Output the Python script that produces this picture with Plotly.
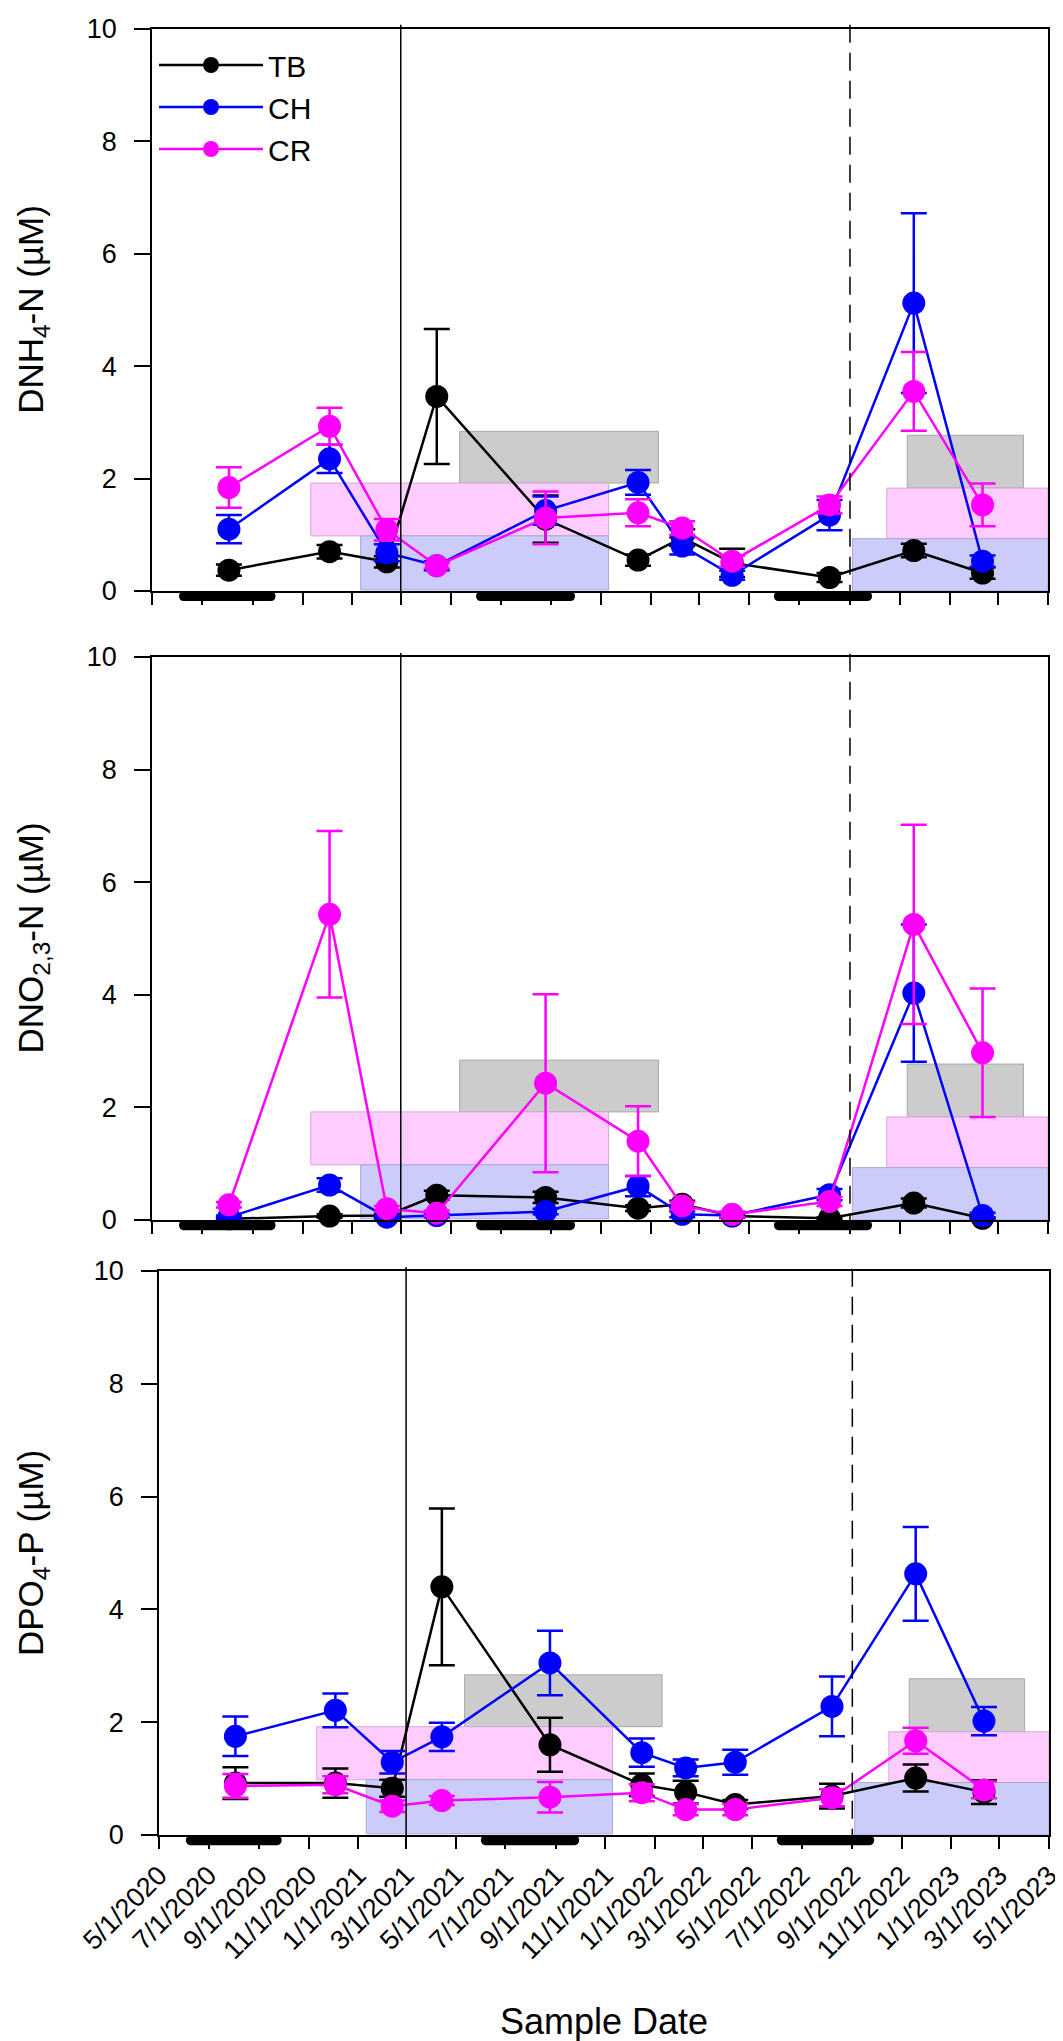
from datetime import date, timedelta

import plotly.graph_objects as go

# Fechas de muestreo
sample_dates = ["2020-08-03", "2020-12-04", "2021-02-12", "2021-04-14", "2021-08-25",
                "2021-12-16", "2022-02-08", "2022-04-10", "2022-08-07", "2022-11-18",
                "2023-02-10"]

# DNH4-N
tb_nh4 = [0.37, 0.70, 0.52, 3.46, 1.28, 0.55, 0.95, 0.50, 0.24, 0.72, 0.32]
tb_nh4_sd = [0.10, 0.12, 0.10, 1.20, 0.42, 0.10, 0.15, 0.25, 0.08, 0.12, 0.10]
ch_nh4 = [1.10, 2.35, 0.68, 0.45, 1.43, 1.93, 0.80, 0.28, 1.35, 5.12, 0.53]
ch_nh4_sd = [0.25, 0.25, 0.15, 0.08, 0.25, 0.22, 0.15, 0.08, 0.27, 1.60, 0.10]
cr_nh4 = [1.84, 2.93, 1.09, 0.45, 1.30, 1.39, 1.12, 0.53, 1.53, 3.55, 1.53]
cr_nh4_sd = [0.36, 0.33, 0.19, 0.05, 0.47, 0.24, 0.12, 0.10, 0.15, 0.70, 0.38]

# DNO2,3-N
tb_no3 = [0.02, 0.07, 0.08, 0.44, 0.40, 0.21, 0.28, 0.07, 0.03, 0.30, 0.03]
tb_no3_sd = [0.02, 0.03, 0.03, 0.08, 0.10, 0.05, 0.06, 0.03, 0.02, 0.08, 0.02]
ch_no3 = [0.05, 0.62, 0.05, 0.08, 0.15, 0.60, 0.10, 0.08, 0.45, 4.03, 0.08]
ch_no3_sd = [0.03, 0.12, 0.03, 0.03, 0.05, 0.18, 0.05, 0.03, 0.10, 1.22, 0.05]
cr_no3 = [0.27, 5.43, 0.20, 0.12, 2.43, 1.40, 0.25, 0.10, 0.33, 5.25, 2.97]
cr_no3_sd = [0.05, 1.48, 0.05, 0.05, 1.58, 0.62, 0.07, 0.05, 0.08, 1.77, 1.14]

# DPO4-P
tb_po4 = [0.92, 0.92, 0.83, 4.40, 1.60, 0.89, 0.76, 0.54, 0.69, 1.01, 0.76]
tb_po4_sd = [0.28, 0.26, 0.15, 1.39, 0.48, 0.20, 0.20, 0.08, 0.22, 0.24, 0.21]
ch_po4 = [1.75, 2.21, 1.29, 1.74, 3.05, 1.46, 1.19, 1.29, 2.28, 4.63, 2.02]
ch_po4_sd = [0.35, 0.30, 0.20, 0.25, 0.57, 0.25, 0.15, 0.22, 0.53, 0.83, 0.25]
cr_po4 = [0.87, 0.89, 0.51, 0.61, 0.67, 0.75, 0.45, 0.45, 0.66, 1.67, 0.80]
cr_po4_sd = [0.21, 0.15, 0.10, 0.08, 0.27, 0.15, 0.10, 0.10, 0.15, 0.23, 0.15]

# Eje x
tick_dates = ["2020-05-01", "2020-07-01", "2020-09-01", "2020-11-01", "2021-01-01",
              "2021-03-01", "2021-05-01", "2021-07-01", "2021-09-01", "2021-11-01",
              "2022-01-01", "2022-03-01", "2022-05-01", "2022-07-01", "2022-09-01",
              "2022-11-01", "2023-01-01", "2023-03-01", "2023-05-01"]
tick_labels = ["5/1/2020", "7/1/2020", "9/1/2020", "11/1/2020", "1/1/2021",
               "3/1/2021", "5/1/2021", "7/1/2021", "9/1/2021", "11/1/2021",
               "1/1/2022", "3/1/2022", "5/1/2022", "7/1/2022", "9/1/2022",
               "11/1/2022", "1/1/2023", "3/1/2023", "5/1/2023"]

# Lineas verticales y barras de verano
solid_line_date = "2021-03-01"
dashed_line_date = "2022-09-01"
summer_start = ["2020-06-03", "2021-06-01", "2022-05-31"]
summer_end = ["2020-09-29", "2021-09-30", "2022-09-28"]

# Cajas de referencia
box_x0 = ["2021-05-12", "2020-11-11", "2021-01-11", "2022-11-10", "2022-10-16", "2022-09-04"]
box_x1 = ["2022-01-10", "2021-11-10", "2021-11-10", "2023-04-01", "2023-05-01", "2023-05-01"]
box_y0 = [1.92, 0.98, 0.02, 1.83, 0.93, 0.00]
box_y1 = [2.84, 1.92, 0.98, 2.77, 1.83, 0.93]
box_fill = ["#cccccc", "#ffccff", "#ccccfa"]
box_edge = ["#a8a8a8", "#d6a8d6", "#a8a8d6"]

panels = [
    ("DNH<sub>4</sub>-N (µM)", [tb_nh4, ch_nh4, cr_nh4], [tb_nh4_sd, ch_nh4_sd, cr_nh4_sd]),
    ("DNO<sub>2,3</sub>-N (µM)", [tb_no3, ch_no3, cr_no3], [tb_no3_sd, ch_no3_sd, cr_no3_sd]),
    ("DPO<sub>4</sub>-P (µM)", [tb_po4, ch_po4, cr_po4], [tb_po4_sd, ch_po4_sd, cr_po4_sd]),
]
names = ["TB", "CH", "CR"]
colors = ["#000000", "#0000ff", "#ff00ff"]

W, H = 1063, 2041
x_domains = [[144 / W, 1040 / W], [144 / W, 1040 / W], [151 / W, 1041 / W]]
y_domains = [[1 - 583 / H, 1 - 20.7 / H], [1 - 1212 / H, 1 - 649 / H], [1 - 1827 / H, 1 - 1263 / H]]
FONT = "Liberation Sans, Arial, sans-serif"
CAP = timedelta(days=11)  # extremos redondeados de las barras


def shift(d, delta):
    return (date.fromisoformat(d) + delta).isoformat()


fig = go.Figure()
shapes = []
annotations = []

for i, (ytitle, series, errors) in enumerate(panels):
    n = "" if i == 0 else str(i + 1)
    xa, ya = "x" + n, "y" + n
    for name, vals, err, col in zip(names, series, errors, colors):
        fig.add_trace(go.Scatter(
            x=sample_dates, y=vals, name=name, mode="lines+markers",
            line=dict(color=col, width=2.5),
            marker=dict(size=23, color=col),
            error_y=dict(type="data", array=err, color=col, thickness=2.5, width=13),
            xaxis=xa, yaxis=ya, showlegend=(i == 0), cliponaxis=False,
        ))

    for k in range(len(box_x0)):
        shapes.append(dict(type="rect", xref=xa, yref=ya, x0=box_x0[k], x1=box_x1[k],
                           y0=box_y0[k], y1=box_y1[k], fillcolor=box_fill[k % 3],
                           line=dict(color=box_edge[k % 3], width=1), layer="below"))
    for s, e in zip(summer_start, summer_end):
        bar = dict(xref=xa, yref=ya + " domain", y0=-0.018, y1=0, fillcolor="black",
                   line=dict(width=0), layer="above")
        shapes.append(dict(bar, type="rect", x0=shift(s, CAP / 2), x1=shift(e, -CAP / 2)))
        shapes.append(dict(bar, type="circle", x0=s, x1=shift(s, CAP)))
        shapes.append(dict(bar, type="circle", x0=shift(e, -CAP), x1=e))
    shapes.append(dict(type="line", xref=xa, yref=ya + " domain", x0=solid_line_date,
                       x1=solid_line_date, y0=-0.021, y1=1.007,
                       line=dict(color="black", width=1.5)))
    shapes.append(dict(type="line", xref=xa, yref=ya + " domain", x0=dashed_line_date,
                       x1=dashed_line_date, y0=-0.021, y1=1.007,
                       line=dict(color="black", width=1.5, dash="18px,10px")))

    annotations.append(dict(text=ytitle, xref="paper", yref=ya + " domain", x=25 / W, y=0.5,
                            textangle=-90, showarrow=False, xanchor="center", yanchor="middle",
                            font=dict(size=35, color="black", family=FONT)))

    fig.update_layout({
        "xaxis" + n: dict(
            domain=x_domains[i], anchor=ya, type="date", automargin=False,
            range=[tick_dates[0], tick_dates[-1]],
            tickvals=tick_dates, ticktext=tick_labels, showticklabels=(i == 2),
            tickangle=-45, tickfont=dict(size=27, color="black", family=FONT),
            ticks="outside", ticklen=12, tickwidth=1.5, tickcolor="black",
            showline=True, linecolor="black", linewidth=1.5, mirror=True,
            showgrid=False, zeroline=False,
        ),
        "yaxis" + n: dict(
            domain=y_domains[i], anchor=xa, range=[0, 10], automargin=False,
            tickvals=[0, 2, 4, 6, 8, 10], tickfont=dict(size=27, color="black", family=FONT),
            ticks="outside", ticklen=16, tickwidth=1.5, tickcolor="black",
            ticklabelstandoff=12,
            showline=True, linecolor="black", linewidth=1.5, mirror=True,
            showgrid=False, zeroline=False,
        ),
    })

annotations.append(dict(text="Sample Date", xref="x3 domain", yref="paper", x=0.5, y=1 - 2013 / H,
                        showarrow=False, xanchor="center", yanchor="middle",
                        font=dict(size=36, color="black", family=FONT)))

fig.update_layout(
    width=W, height=H,
    margin=dict(l=0, r=0, t=0, b=0),
    paper_bgcolor="white", plot_bgcolor="white",
    font=dict(family=FONT, color="black"),
    shapes=shapes, annotations=annotations,
    legend=dict(x=146 / W, y=1 - 31 / H, xanchor="left", yanchor="top",
                font=dict(size=30, color="black", family=FONT), itemwidth=104,
                bgcolor="rgba(0,0,0,0)", tracegroupgap=0),
)

fig.write_html("out.html")
